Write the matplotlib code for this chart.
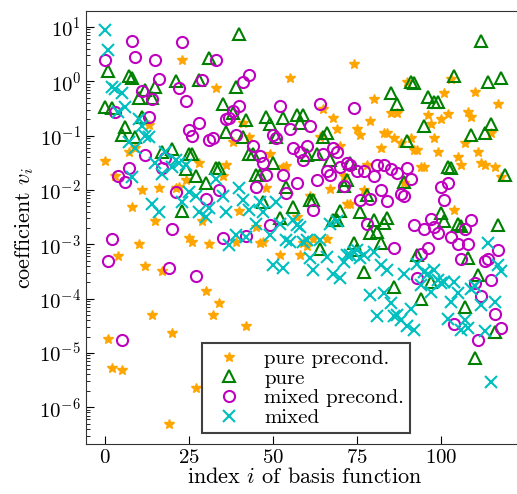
import numpy as np
import matplotlib
matplotlib.use("Agg")
import matplotlib.pyplot as plt

#############################################################################################
# data: (basis-function index, log10 of coefficient)
pure_precond = [
    (0, -1.47), (1, -4.75), (2, -5.27), (3, -1.74), (4, -3.22), (5, -5.32), (7, -1.30), (8, -2.31),
    (9, -1.23), (10, -3.00), (11, -2.00), (12, -3.40), (13, -0.80), (14, -4.30), (15, -2.58),
    (16, -1.96), (17, -3.49), (19, -6.31), (20, -4.64), (21, -1.97), (22, -1.94), (23, 0.39),
    (24, -1.82), (25, -2.89), (26, -2.95), (27, -5.64), (28, -1.50), (29, -2.58), (30, -3.86),
    (31, -3.00), (32, -4.30), (33, -0.13), (34, -4.08), (35, -1.74), (36, -1.54), (38, -1.11),
    (39, -2.95), (40, -2.39), (41, -0.76), (42, -4.51), (43, -1.02), (45, -2.69), (46, -2.97),
    (47, -2.95), (48, -1.96), (49, -1.34), (52, -3.19), (53, -1.58), (54, -1.56), (55, 0.07),
    (57, -2.49), (58, -3.19), (59, -2.98), (60, -3.03), (61, -2.11), (62, -2.90), (64, -1.02),
    (65, -0.51), (66, -2.90), (67, -1.99), (68, -0.68), (69, -0.88), (70, -1.20), (71, -1.74),
    (72, -2.25), (73, -2.25), (74, 0.31), (75, -0.87), (76, -0.99), (77, -2.00), (78, -1.54),
    (79, -0.74), (80, -0.33), (82, -1.23), (83, -0.95), (84, -0.95), (85, -0.59), (86, -1.05),
    (87, -0.59), (88, -1.13), (89, -1.88), (90, -0.01), (91, -1.05), (92, -1.27), (93, -1.27),
    (94, -1.57), (95, -1.57), (96, -0.62), (97, -0.79), (98, -1.05), (99, -1.31), (100, -0.70),
    (101, -0.22), (102, -0.60), (103, 0.05), (104, -2.37), (105, -1.40), (106, -1.55),
    (107, -1.14), (108, -0.57), (109, -0.65), (110, -0.20), (111, -1.31), (112, -1.50),
    (113, -1.55), (115, -0.95), (116, -1.57), (117, -0.41), (118, -1.76),
]

pure = [
    (0, -0.47), (1, 0.19), (2, -0.50), (5, -0.99), (6, -0.85), (7, 0.10), (8, 0.07), (9, -1.02),
    (10, -0.31), (11, -0.65), (12, -0.16), (14, -0.31), (15, -0.11), (17, -1.30), (20, -1.25),
    (21, 0.01), (23, -2.38), (24, -1.62), (25, -1.33), (26, -1.34), (27, -1.74), (28, 0.02),
    (30, -1.88), (31, 0.42), (33, -1.60), (34, -1.60), (35, -0.41), (36, -0.93), (38, -0.59),
    (39, -0.11), (40, 0.88), (41, -1.02), (42, -0.72), (43, -1.33), (44, -1.33), (45, -1.73),
    (46, -1.73), (47, -2.22), (48, -0.66), (49, -0.79), (50, -1.50), (51, -1.02), (52, -2.52),
    (53, -0.68), (54, -1.94), (56, -2.32), (57, -0.62), (58, -0.76), (59, -0.62), (60, -1.36),
    (61, -2.19), (62, -2.19), (63, -1.34), (64, -3.08), (65, -1.02), (66, -0.95), (67, -1.45),
    (68, -2.55), (69, -2.55), (70, -2.38), (71, -1.93), (72, -1.82), (73, -1.51), (74, -2.97),
    (75, -3.11), (76, -2.40), (77, -3.51), (78, -2.09), (79, -2.80), (80, -2.55), (81, -2.77),
    (82, -2.98), (83, -2.60), (84, -2.52), (85, -0.21), (86, -3.78), (87, -0.41), (89, -1.85),
    (90, -1.09), (91, -0.01), (92, -0.03), (93, -3.19), (94, -4.00), (95, -0.82), (96, -0.28),
    (97, -3.69), (98, -0.38), (99, -0.39), (100, -2.43), (101, -2.58), (102, -1.57), (103, -1.60),
    (104, 0.10), (105, -2.63), (106, -2.67), (107, -4.15), (108, -3.26), (109, -0.99), (110, -5.10),
    (111, -3.57), (112, 0.74), (113, -0.96), (114, -0.01), (115, -0.79), (116, -4.61), (117, -2.65),
    (118, 0.07), (119, -1.73),
]

mixed_precond = [
    (0, 0.39), (1, -3.30), (2, -2.91), (3, -0.56), (4, -1.74), (5, -4.76), (6, -1.85), (7, -1.60),
    (8, 0.74), (9, 0.45), (11, -0.17), (12, -1.36), (13, -0.66), (14, -0.33), (15, 0.39), (16, 0.04),
    (17, -1.60), (18, -1.42), (19, -3.43), (20, -2.72), (21, -2.03), (22, -0.13), (23, 0.72),
    (24, -0.36), (25, -0.90), (26, -1.00), (27, -3.58), (28, -0.76), (29, 0.02), (30, -2.16),
    (31, -1.08), (32, -1.04), (33, 0.40), (34, -2.01), (35, -2.89), (36, -0.69), (37, -0.68),
    (38, -0.55), (39, -0.99), (40, -0.45), (41, -0.02), (42, -2.85), (43, 0.12), (44, -1.19),
    (45, -1.94), (46, -1.37), (47, -1.51), (48, -1.73), (49, -2.64), (50, -0.98), (51, -1.04),
    (52, -0.45), (53, -1.73), (54, -2.05), (55, -0.87), (56, -1.23), (57, -1.87), (58, -1.31),
    (59, -1.45), (60, -1.19), (61, -0.82), (62, -2.37), (63, -1.82), (64, -0.41), (65, -1.34),
    (66, -1.66), (67, -1.73), (68, -1.23), (69, -1.31), (70, -1.57), (71, -1.93), (72, -1.51),
    (73, -1.55), (74, -0.50), (75, -1.66), (76, -2.19), (77, -1.66), (78, -2.62), (79, -2.17),
    (80, -1.74), (81, -1.55), (82, -2.01), (83, -1.54), (84, -2.20), (85, -1.62), (86, -3.07),
    (87, -1.68), (88, -2.08), (89, -2.12), (90, -1.59), (91, -1.80), (92, -2.65), (93, -3.62),
    (94, -3.18), (95, -2.72), (96, -3.07), (97, -2.54), (98, -2.68), (99, -2.80), (100, -1.94),
    (101, -2.19), (102, -1.87), (103, -2.86), (104, -4.47), (105, -3.00), (106, -3.27), (107, -2.72),
    (108, -3.00), (109, -2.55), (110, -3.72), (111, -4.76), (112, -3.95), (113, -3.30), (114, -3.28),
    (115, -3.66), (116, -4.29), (117, -3.11), (118, -4.55),
]

mixed = [
    (0, 0.94), (1, 0.58), (2, -0.11), (3, -0.15), (4, -0.56), (5, -0.21), (6, -0.48), (7, -1.11),
    (8, -1.76), (9, -1.23), (10, -0.70), (11, -0.82), (12, -1.00), (13, -1.02), (14, -2.25),
    (15, -1.51), (16, -2.40), (17, -1.70), (18, -1.30), (20, -1.57), (21, -1.44), (22, -1.51),
    (23, -2.22), (24, -1.54), (25, -2.03), (27, -2.12), (28, -2.40), (30, -2.49), (31, -2.34),
    (33, -1.79), (35, -2.12), (36, -2.40), (37, -3.01), (39, -2.83), (40, -1.97), (41, -2.19),
    (42, -2.86), (43, -2.37), (45, -2.62), (46, -2.22), (47, -2.40), (49, -2.83), (50, -3.38),
    (51, -2.22), (52, -2.62), (53, -3.44), (54, -2.92), (55, -2.95), (56, -2.55), (57, -2.65),
    (58, -2.68), (59, -2.95), (60, -2.92), (61, -3.26), (62, -3.47), (64, -2.92), (66, -3.23),
    (67, -2.63), (68, -3.54), (69, -2.58), (70, -3.63), (71, -3.32), (72, -3.20), (73, -3.20),
    (74, -3.15), (75, -3.10), (76, -3.25), (77, -3.20), (79, -3.93), (80, -3.15), (81, -4.33),
    (82, -3.38), (83, -3.90), (84, -3.48), (85, -4.09), (86, -4.33), (87, -4.30), (88, -4.40),
    (89, -3.54), (90, -4.50), (91, -4.20), (92, -4.57), (93, -3.36), (94, -3.75), (95, -3.51),
    (96, -3.54), (97, -3.88), (98, -3.48), (99, -3.66), (100, -3.72), (101, -3.70), (102, -4.37),
    (103, -4.07), (104, -3.70), (105, -3.90), (106, -4.57), (107, -4.40), (108, -4.55), (109, -3.82),
    (110, -3.76), (112, -4.12), (113, -4.60), (114, -2.98), (115, -5.53), (116, -4.07), (117, -3.38),
    (118, -3.50),
]


def split(pairs):
    idx, logv = zip(*pairs)
    return np.array(idx), 10.0 ** np.array(logv)


#############################################################################################
plt.rcParams['font.family'] = 'serif'
plt.rcParams['font.serif'] = ['cmr10']
plt.rcParams['mathtext.fontset'] = 'cm'
plt.rcParams['axes.unicode_minus'] = False
plt.rcParams['axes.formatter.use_mathtext'] = True

fig = plt.figure(figsize=(5.17, 4.94), dpi=100)
ax = fig.add_axes([86 / 517, 50 / 494, 438 / 517, 433 / 494])

x, y = split(pure_precond)
ax.semilogy(x, y, '*', color='orange', ms=7, ls='none', label='pure precond.')
x, y = split(pure)
ax.semilogy(x, y, '^', color='green', mfc='none', ms=8, mew=1.5, ls='none', label='pure')
x, y = split(mixed_precond)
ax.semilogy(x, y, 'o', color='m', mfc='none', ms=8, mew=1.5, ls='none', label='mixed precond.')
x, y = split(mixed)
ax.semilogy(x, y, 'x', color='c', ms=8, mew=1.5, ls='none', label='mixed')

ax.set_xlim(-5.65, 124.7)
ax.set_ylim(2.1e-7, 19.7)
ax.set_xticks([0, 25, 50, 75, 100])
ax.set_yticks([1e-6, 1e-5, 1e-4, 1e-3, 1e-2, 1e-1, 1e0, 1e1])
ax.tick_params(which='both', direction='in', labelsize=15)
ax.tick_params(which='major', length=6)
ax.tick_params(which='minor', length=3)
ax.set_xlabel('index $i$ of basis function', fontsize=16, labelpad=0)
ax.set_ylabel('coefficient $v_i$', fontsize=16, labelpad=2)
for s in ax.spines.values():
    s.set_color('0.2')

leg = ax.legend(loc='lower left', bbox_to_anchor=(0.264, 0.025), borderaxespad=0,
                fancybox=False, framealpha=1, fontsize=15, handletextpad=0.7,
                labelspacing=0.05, borderpad=0.3)
leg.get_frame().set_edgecolor('0.25')
leg.get_frame().set_linewidth(1.5)

fig.savefig('out.png', dpi=100)
